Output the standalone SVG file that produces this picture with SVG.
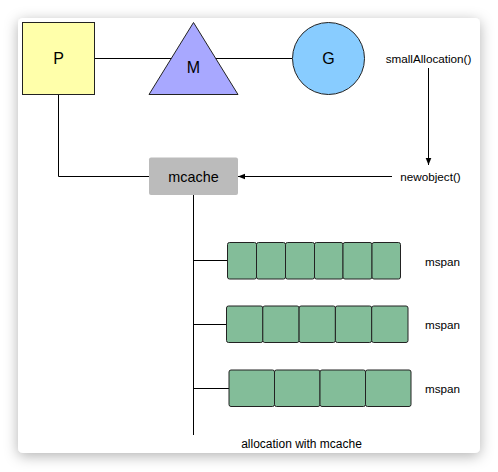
<svg xmlns="http://www.w3.org/2000/svg" width="498" height="472" viewBox="0 0 498 472">
<style>
text{font-family:"Liberation Sans",Arial,sans-serif;fill:#000;text-anchor:middle;dominant-baseline:central}
.big{font-size:16px}
.sm{font-size:11.7px}
.ln{fill:none;stroke:#000;stroke-width:1}
.cell{fill:#83bd99;stroke:#222;stroke-width:1}
</style>
<defs>
<filter id="sh" x="-10%" y="-10%" width="120%" height="120%">
<feDropShadow dx="0" dy="3" stdDeviation="7" flood-color="#000" flood-opacity="0.3"/>
</filter>
<marker id="ah" viewBox="0 0 10 10" refX="10" refY="5" markerWidth="7" markerHeight="7" orient="auto" markerUnits="userSpaceOnUse">
<path d="M0,1 L10,5 L0,9 Z" fill="#000"/>
</marker>
</defs>
<rect x="0" y="0" width="498" height="472" fill="#fff"/>
<rect x="18" y="18" width="462" height="435" rx="5" fill="#fff" filter="url(#sh)"/>
<g id="connectors">
<line class="ln" x1="94.5" y1="58.5" x2="292" y2="58.5"/>
<polyline class="ln" points="58.5,94.5 58.5,176.5 149,176.5"/>
<line class="ln" x1="428.5" y1="68" x2="428.5" y2="165" marker-end="url(#ah)"/>
<line class="ln" x1="392" y1="176.5" x2="238" y2="176.5" marker-end="url(#ah)"/>
<line class="ln" x1="193.5" y1="195" x2="193.5" y2="435"/>
<line class="ln" x1="193.5" y1="260.5" x2="227" y2="260.5"/>
<line class="ln" x1="193.5" y1="324.5" x2="226" y2="324.5"/>
<line class="ln" x1="193.5" y1="388.5" x2="229" y2="388.5"/>
</g>
<g id="P">
<rect x="22.5" y="22.5" width="72" height="72" fill="#ffffaa" stroke="#222"/>
<text class="big" x="58.5" y="58.5">P</text>
</g>
<g id="M">
<polygon points="193.5,22.5 149,94.5 238,94.5" fill="#a8a8ff" stroke="#222"/>
<text class="big" x="193.5" y="67">M</text>
</g>
<g id="G">
<circle cx="328.5" cy="58.5" r="36" fill="#88ccff" stroke="#222"/>
<text class="big" x="328.5" y="58.5">G</text>
</g>
<g id="smallAllocation">
<text class="sm" x="428.5" y="58.5">smallAllocation()</text>
</g>
<g id="newobject">
<text class="sm" x="430.5" y="176.5">newobject()</text>
</g>
<g id="mcache">
<rect x="149" y="157.5" width="89" height="37.5" rx="2" fill="#bbbbbb"/>
<text style="font-size:14.4px" x="193.5" y="176.5">mcache</text>
</g>
<g id="mspan1">
<rect class="cell" x="227.5" y="242.5" width="29" height="36.5" rx="2"/>
<rect class="cell" x="256.5" y="242.5" width="29" height="36.5" rx="2"/>
<rect class="cell" x="285.5" y="242.5" width="29" height="36.5" rx="2"/>
<rect class="cell" x="314.5" y="242.5" width="28.5" height="36.5" rx="2"/>
<rect class="cell" x="343" y="242.5" width="29" height="36.5" rx="2"/>
<rect class="cell" x="372" y="242.5" width="28.5" height="36.5" rx="2"/>
<text class="sm" x="442.5" y="261">mspan</text>
</g>
<g id="mspan2">
<rect class="cell" x="226.5" y="306" width="36.3" height="36.5" rx="2"/>
<rect class="cell" x="262.8" y="306" width="36.3" height="36.5" rx="2"/>
<rect class="cell" x="299.1" y="306" width="36.3" height="36.5" rx="2"/>
<rect class="cell" x="335.4" y="306" width="36.3" height="36.5" rx="2"/>
<rect class="cell" x="371.7" y="306" width="36.3" height="36.5" rx="2"/>
<text class="sm" x="442.5" y="324.5">mspan</text>
</g>
<g id="mspan3">
<rect class="cell" x="229" y="370" width="45.5" height="36.5" rx="2"/>
<rect class="cell" x="274.5" y="370" width="45.5" height="36.5" rx="2"/>
<rect class="cell" x="320" y="370" width="45.5" height="36.5" rx="2"/>
<rect class="cell" x="365.5" y="370" width="45.5" height="36.5" rx="2"/>
<text class="sm" x="442.5" y="388.5">mspan</text>
</g>
<g id="caption">
<text class="sm" style="font-size:12px" x="301.5" y="444">allocation with mcache</text>
</g>
</svg>
